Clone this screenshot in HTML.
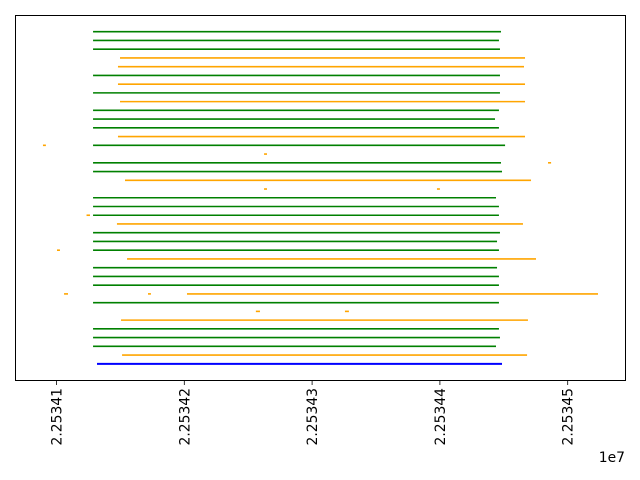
<!DOCTYPE html>
<html><head><meta charset="utf-8"><style>
body{margin:0;background:#fff}
svg{display:block;font-family:"DejaVu Sans","Liberation Sans",sans-serif}
</style></head><body>
<svg id="chart" width="640" height="480" xmlns="http://www.w3.org/2000/svg">
<rect x="0" y="0" width="640" height="480" fill="#fff"/>
<g id="marks"></g>
<rect x="15.5" y="15.5" width="610" height="365" fill="none" stroke="#000" stroke-width="1"/>
<g id="xticks"></g>
<text x="625" y="462" font-size="13.9" text-anchor="end">1e7</text>
</svg>
<script>
const segRow=[0,1,2,3,4,5,6,7,8,9,10,11,12,13,13,14,15,15,16,17,18,18,19,20,21,21,22,23,24,25,25,26,27,28,29,30,30,30,31,32,32,33,34,35,36,37,38];
const segColor=["g","g","g","o","o","g","o","g","o","g","g","g","o","g","o","o","g","o","g","o","o","o","g","g","g","o","o","g","g","g","o","o","g","g","g","o","o","o","g","o","o","o","g","g","g","o","b"];
const segStart=[22534128.6,22534128.6,22534128.6,22534149.7,22534148.1,22534128.6,22534148.1,22534128.6,22534149.7,22534128.6,22534128.6,22534128.6,22534148.1,22534128.6,22534089.4,22534262.4,22534128.6,22534484.6,22534128.6,22534153.6,22534262.4,22534397.7,22534128.6,22534128.6,22534128.6,22534123.5,22534147.3,22534128.6,22534128.6,22534128.6,22534100.4,22534155.2,22534128.6,22534128.6,22534128.6,22534105.9,22534171.6,22534202.1,22534128.6,22534256.0,22534325.7,22534150.5,22534128.6,22534128.6,22534128.6,22534151.3,22534131.7];
const segEnd=[22534447.8,22534446.2,22534447.0,22534466.6,22534465.8,22534447.0,22534466.6,22534447.0,22534466.6,22534446.2,22534443.1,22534446.2,22534466.6,22534451.0,22534091.7,22534264.7,22534447.8,22534487.0,22534448.6,22534471.3,22534264.7,22534400.0,22534443.9,22534446.2,22534446.2,22534126.2,22534465.0,22534447.0,22534444.7,22534446.2,22534102.7,22534475.2,22534444.7,22534446.2,22534446.2,22534109.0,22534173.9,22534523.7,22534446.2,22534259.2,22534328.8,22534468.9,22534446.2,22534447.0,22534443.9,22534468.2,22534448.6];
const tickValues=[22534100,22534200,22534300,22534400,22534500];
const tickLabels=["2.25341","2.25342","2.25343","2.25344","2.25345"];
const colorMap={g:"#008000",o:"#ffa500",b:"#0000ff"};
const NS="http://www.w3.org/2000/svg";
function xScale(v){return 56.5+(v-22534100)*1.278;}
function yScale(r){return 31.7+r*8.74;}
const marks=document.getElementById('marks');
for(let i=0;i<segRow.length;i++){
  const l=document.createElementNS(NS,'line');
  const y=yScale(segRow[i]);
  l.setAttribute('x1',xScale(segStart[i]));
  l.setAttribute('x2',xScale(segEnd[i]));
  l.setAttribute('y1',y);l.setAttribute('y2',y);
  l.setAttribute('stroke',colorMap[segColor[i]]);
  l.setAttribute('stroke-width',segColor[i]==='b'?2:1.6);
  
  
  marks.appendChild(l);
}
const xt=document.getElementById('xticks');
for(let i=0;i<tickValues.length;i++){
  const x=xScale(tickValues[i]);
  const t=document.createElementNS(NS,'line');
  t.setAttribute('x1',x);t.setAttribute('x2',x);t.setAttribute('y1',380.5);t.setAttribute('y2',385);
  t.setAttribute('stroke','#000');t.setAttribute('stroke-width',0.8);
  
  
  xt.appendChild(t);
  const tx=document.createElementNS(NS,'text');
  tx.setAttribute('transform','translate('+(x+5)+',388) rotate(-90)');
  tx.setAttribute('text-anchor','end');
  tx.setAttribute('font-size','13.9');
  tx.textContent=tickLabels[i];
  
  
  xt.appendChild(tx);
}
</script>
</body></html>
